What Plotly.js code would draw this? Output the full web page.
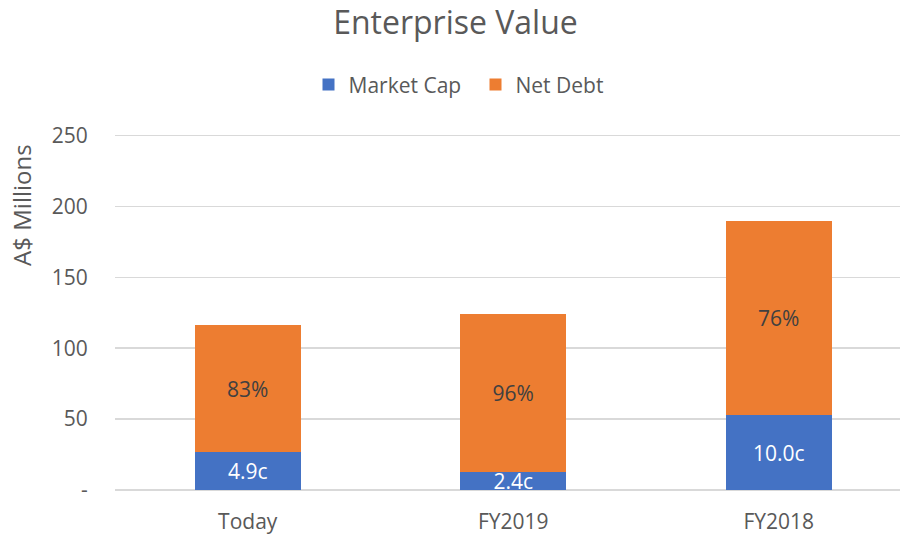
<!DOCTYPE html>
<html><head><meta charset="utf-8">
<script src="https://cdn.plot.ly/plotly-3.0.1.min.js"></script>
<style>html,body{margin:0;padding:0;background:#fff}#c{width:901px;height:534px}</style>
</head><body><div id="c"></div>
<script>
const categories = ['Today', 'FY2019', 'FY2018'];
const marketCap = [26.8, 12.4, 52.6];
const netDebt = [89.2, 111.9, 136.8];
const marketCapLabels = ['4.9c', '2.4c', '10.0c'];
const netDebtLabels = ['83%', '96%', '76%'];
const yTickVals = [0, 50, 100, 150, 200, 250];
const yTickText = ['-', '50', '100', '150', '200', '250'];
const yTitle = 'A$ Millions';

const FONT = 'Open Sans, sans-serif';
const data = [
  {type:'bar', name:'Market Cap', x:categories, y:marketCap, text:marketCapLabels,
   textposition:'inside', insidetextanchor:'middle', constraintext:'none', textangle:0,
   textfont:{color:'#ffffff', size:21, family:FONT},
   marker:{color:'#4472C4'}, width:0.4, hoverinfo:'skip'},
  {type:'bar', name:'Net Debt', x:categories, y:netDebt, text:netDebtLabels,
   textposition:'inside', insidetextanchor:'middle', constraintext:'none', textangle:0,
   textfont:{color:'#404040', size:21, family:FONT},
   marker:{color:'#ED7D31'}, width:0.4, hoverinfo:'skip'}
];
const layout = {
  width:901, height:534, barmode:'stack',
  paper_bgcolor:'#fff', plot_bgcolor:'#fff',
  font:{family:FONT, color:'#595959', size:21},
  margin:{l:115, r:1, t:133, b:44, autoexpand:false},
  title:{text:'Enterprise Value', font:{size:32, color:'#595959', family:FONT}, xref:'container', x:0.5055, xanchor:'center', y:0.957, yanchor:'middle'},
  showlegend:true,
  legend:{orientation:'h', x:0.2465, xanchor:'left', y:1.135, yanchor:'middle', font:{size:21, color:'#595959'}, traceorder:'normal', itemwidth:30, entrywidth:122},
  xaxis:{range:[-0.5, 2.457], showgrid:false, zeroline:false, showline:false, ticks:'outside', ticklen:13, tickcolor:'rgba(0,0,0,0)', tickfont:{size:21, color:'#595959'}},
  yaxis:{range:[0, 251.7], tickvals:yTickVals, ticktext:yTickText, showgrid:true, gridcolor:'#D9D9D9', gridwidth:1.5,
    zeroline:true, zerolinecolor:'#D9D9D9', zerolinewidth:1.5, showline:false,
    ticks:'outside', ticklen:22, tickcolor:'rgba(0,0,0,0)', tickfont:{size:21, color:'#595959'}},
  annotations:[{text:yTitle, xref:'paper', yref:'y', x:-0.1185, y:201, textangle:-90, showarrow:false,
    xanchor:'center', yanchor:'middle', font:{size:24, color:'#595959', family:FONT}}]
};
Plotly.newPlot('c', data, layout, {displayModeBar:false, staticPlot:true});
</script></body></html>
